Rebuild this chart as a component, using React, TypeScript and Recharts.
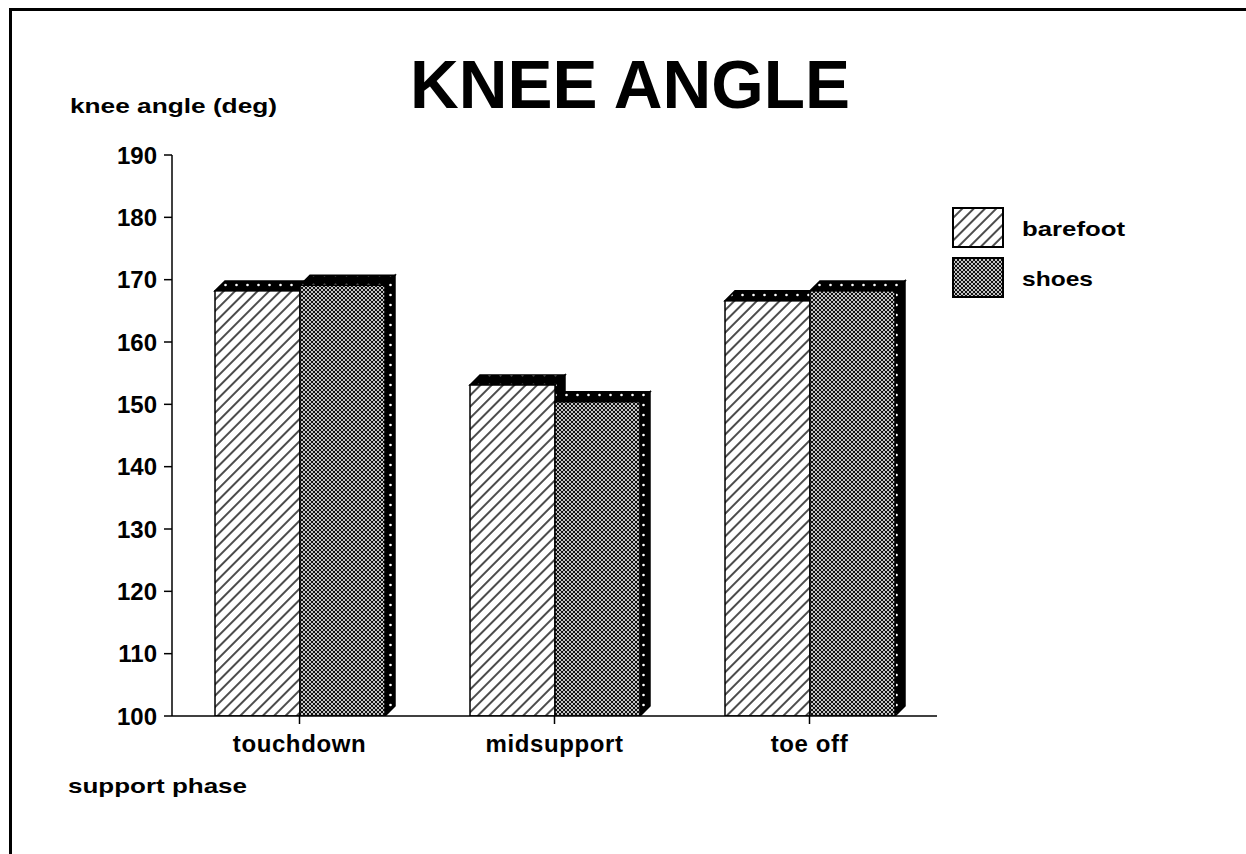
import React from "react";
import { BarChart, Bar, XAxis, YAxis } from "recharts";

const PHASES = ["touchdown", "midsupport", "toe off"];
const BAREFOOT = [168.2, 153.1, 166.6];
const SHOES = [169.1, 150.4, 168.2];
const Y_TICKS = [100, 110, 120, 130, 140, 150, 160, 170, 180, 190];
const SERIES = [
  { key: "barefoot", name: "barefoot", fill: "url(#hatch)" },
  { key: "shoes", name: "shoes", fill: "url(#mesh)" },
];

const data = PHASES.map((phase, i) => ({ phase, barefoot: BAREFOOT[i], shoes: SHOES[i] }));

const FONT = "'Liberation Sans', Arial, Helvetica, sans-serif";
const DX = 10;
const DY = 10;

// front face + dotted black top and right side
const Bar3D = (props: any) => {
  const { x, y, width, height, fill } = props;
  const b = y + height;
  return (
    <g>
      <path
        d={`M${x},${y} L${x + DX},${y - DY} L${x + width + DX},${y - DY} L${x + width},${y} Z`}
        fill="url(#dots)"
        stroke="#000"
        strokeWidth={1.5}
      />
      <path
        d={`M${x + width},${y} L${x + width + DX},${y - DY} L${x + width + DX},${b - DY} L${x + width},${b} Z`}
        fill="url(#dots)"
        stroke="#000"
        strokeWidth={1.5}
      />
      <rect x={x} y={y} width={width} height={height} fill={fill} stroke="#000" strokeWidth={1.5} />
    </g>
  );
};

const YTick = (props: any) => {
  const { x, y, payload } = props;
  return (
    <text x={x} y={y} dy="0.36em" textAnchor="end" fontFamily={FONT} fontWeight={700} fontSize={24} fill="#000">
      {payload.value}
    </text>
  );
};

const XTick = (props: any) => {
  const { x, y, payload } = props;
  return (
    <text x={x} y={y + 26} textAnchor="middle" fontFamily={FONT} fontWeight={700} fontSize={24} letterSpacing={0.6} fill="#000">
      {payload.value}
    </text>
  );
};

export default function App() {
  return (
    <div style={{ position: "absolute", left: 0, top: 0, width: 1246, height: 854, background: "#fff", overflow: "hidden" }}>
      {/* frame, only top and left edges are in the picture */}
      <div
        style={{
          position: "absolute",
          left: 9,
          top: 8,
          width: 1300,
          height: 900,
          borderLeft: "3px solid #000",
          borderTop: "3px solid #000",
        }}
      />
      <svg width={0} height={0} style={{ position: "absolute" }}>
        <defs>
          <pattern id="hatch" width={8} height={8} patternUnits="userSpaceOnUse" patternTransform="rotate(45)">
            <rect width={8} height={8} fill="#fff" />
            <line x1={4} y1={0} x2={4} y2={8} stroke="#000" strokeWidth={1.4} />
          </pattern>
          <pattern id="mesh" width={4} height={4} patternUnits="userSpaceOnUse">
            <rect width={4} height={4} fill="#111" />
            <circle cx={0} cy={0} r={1} fill="#fff" />
            <circle cx={4} cy={0} r={1} fill="#fff" />
            <circle cx={0} cy={4} r={1} fill="#fff" />
            <circle cx={4} cy={4} r={1} fill="#fff" />
            <circle cx={2} cy={2} r={1} fill="#fff" />
          </pattern>
          <pattern id="dots" width={11} height={10} patternUnits="userSpaceOnUse">
            <rect width={11} height={10} fill="#000" />
            <circle cx={5.5} cy={5} r={1.3} fill="#fff" />
          </pattern>
        </defs>
      </svg>
      <div style={{ position: "absolute", left: 0, top: 0 }}>
        <BarChart
          width={1246}
          height={854}
          data={data}
          margin={{ top: 155, right: 309, bottom: 98, left: 112 }}
          barGap={0}
          barSize={85}
        >
          <XAxis
            dataKey="phase"
            height={40}
            tickSize={8}
            tick={<XTick />}
            axisLine={{ stroke: "#000", strokeWidth: 1.5 }}
            tickLine={{ stroke: "#000", strokeWidth: 1.5 }}
          />
          <YAxis
            width={60}
            domain={[100, 190]}
            ticks={Y_TICKS}
            interval={0}
            tickSize={8}
            tickMargin={7}
            tick={<YTick />}
            axisLine={{ stroke: "#000", strokeWidth: 1.5 }}
            tickLine={{ stroke: "#000", strokeWidth: 1.5 }}
            allowDataOverflow
          />
          {SERIES.map((s) => (
            <Bar key={s.key} dataKey={s.key} name={s.name} fill={s.fill} shape={<Bar3D />} isAnimationActive={false} />
          ))}
        </BarChart>
      </div>
      {/* titles and legend */}
      <svg width={1246} height={854} style={{ position: "absolute", left: 0, top: 0, pointerEvents: "none" }}>
        <text x={410} y={108} fontFamily={FONT} fontWeight={700} fontSize={68} textLength={440} lengthAdjust="spacingAndGlyphs" fill="#000">
          KNEE ANGLE
        </text>
        <text x={70} y={113} fontFamily={FONT} fontWeight={700} fontSize={21} textLength={207} lengthAdjust="spacingAndGlyphs" fill="#000">
          knee angle (deg)
        </text>
        <text x={68} y={793} fontFamily={FONT} fontWeight={700} fontSize={21} textLength={179} lengthAdjust="spacingAndGlyphs" fill="#000">
          support phase
        </text>
        {SERIES.map((s, i) => (
          <g key={s.key}>
            <rect x={953} y={208 + i * 50} width={50} height={39} fill={s.fill} stroke="#000" strokeWidth={2} />
            <text
              x={1022}
              y={236 + i * 50}
              fontFamily={FONT}
              fontWeight={700}
              fontSize={21}
              textLength={i === 0 ? 103 : 71}
              lengthAdjust="spacingAndGlyphs"
              fill="#000"
            >
              {s.name}
            </text>
          </g>
        ))}
      </svg>
    </div>
  );
}
